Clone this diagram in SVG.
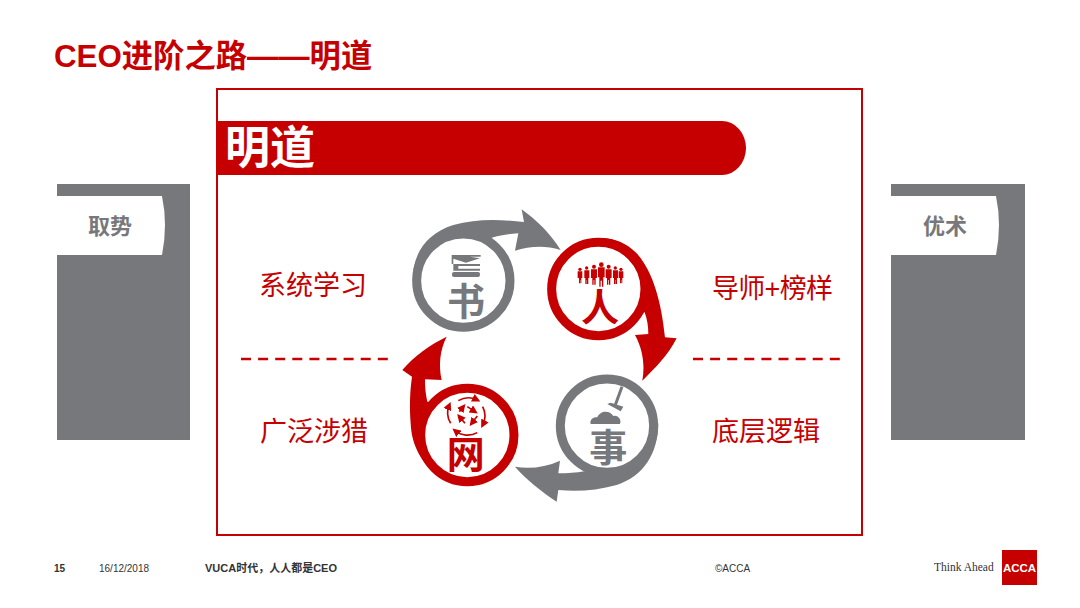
<svg xmlns="http://www.w3.org/2000/svg" width="1080" height="608" viewBox="0 0 1080 608">
<style>
text{font-family:"Liberation Sans","Noto Sans CJK SC",sans-serif}
.cn{font-family:"Noto Sans CJK SC","Liberation Sans",sans-serif}
.lbl{font-size:27px;fill:#c60000}
.tab{font-size:22px;font-weight:700;fill:#77787b;text-anchor:middle}
.ft{font-size:10px;fill:#333}
.gray{fill:#77787b}.red{fill:#c60000}
.ringg{fill:#fff;stroke:#77787b;stroke-width:27}
.ringr{fill:#fff;stroke:#c60000;stroke-width:27}
.big{font-size:114px;font-weight:700;text-anchor:middle}
.dash{stroke:#c60000;stroke-width:2.500;stroke-dasharray:10 7.100}
</style>
<defs>
<marker id="mini" markerWidth="5" markerHeight="5" refX="3" refY="2.500" orient="auto"><path d="M0 0L5 2.500L0 5Z" fill="#c60000"/></marker>
</defs>
<rect width="1080" height="608" fill="#fff"/>
<text id="title" x="54" y="67" font-size="31.300" font-weight="700" fill="#c60000">CEO进阶之路——明道</text>

<g id="panel-left">
<rect x="57" y="184" width="133" height="256" fill="#77787b"/>
<path d="M57 196H162Q168 225 162 255H57Z" fill="#fff"/>
<text class="tab" x="110" y="234">取势</text>
</g>
<g id="panel-right">
<rect x="891" y="184" width="134" height="256" fill="#77787b"/>
<path d="M891 196H996Q1002 225 996 255H891Z" fill="#fff"/>
<text class="tab" x="945" y="234">优术</text>
</g>

<g id="main-frame">
<rect x="217" y="89" width="645" height="446" fill="#fff" stroke="#c60000" stroke-width="2"/>
<path d="M217 121H722A24 27 0 0 1 722 175H217Z" fill="#c60000"/>
<text x="225" y="164" font-size="45" font-weight="700" fill="#fff">明道</text>
</g>

<g id="labels">
<text class="lbl" x="259" y="295">系统学习</text>
<text class="lbl" x="712" y="298" textLength="121">导师+榜样</text>
<text class="lbl" x="260" y="441">广泛涉猎</text>
<text class="lbl" x="712" y="441">底层逻辑</text>
<line class="dash" x1="241" y1="359" x2="388" y2="359"/>
<line class="dash" x1="693" y1="359" x2="840" y2="359"/>
</g>

<g id="cycle" transform="translate(390 190) scale(.3333)">
<g id="connectors">
<path class="gray" d="M68 270C68 190 110 130 190 105C260 85 330 88 402 96L395 58C440 90 480 130 512 180C465 165 420 168 375 182L385 130C350 132 330 136 310 142L240 170L90 300Z"/>
<path class="red" d="M560 165C620 130 690 140 740 190C790 245 815 340 825 442L860 445C835 495 795 535 757 572C765 530 760 480 735 435L775 432C775 410 772 390 765 370L700 250Z"/>
<path class="gray" d="M805 700C805 790 760 860 680 885C620 902 560 905 505 900L500 935C455 905 410 870 375 830C420 838 465 832 510 812L505 850C560 850 610 842 650 825Z"/>
<path class="red" d="M150 860C95 820 65 770 62 700C58 650 60 600 66 560L37 540C75 495 120 465 170 440C150 480 145 525 155 570L105 568C105 590 106 610 112 635L150 640Z"/>
</g>
<g id="node-shu">
<circle class="ringg" cx="220" cy="272" r="140"/>
<path class="gray" d="M185 195H272V200H240L270 205L228 218L190 206V222H185Z"/>
<path class="gray" d="M190 222H270V228H205V236H270V242H190Z"/>
<rect class="gray" x="186" y="246" width="84" height="15" rx="6"/>
<text class="big gray cn" x="228" y="376">书</text>
</g>
<g id="node-ren">
<circle class="ringr" cx="625" cy="297" r="140"/>
<g class="red">
<circle cx="634" cy="224" r="7"/><path d="M624 232H644V262H640V290H636V272H632V290H628V262H624Z"/>
<circle cx="612" cy="230" r="6"/><path d="M603 238H621V264H617V284H613V270H611V284H607V264H603Z"/>
<circle cx="656" cy="230" r="6"/><path d="M647 238H665V264H661V284H657V270H655V284H651V264H647Z"/>
<circle cx="590" cy="234" r="5"/><path d="M583 241H598V264H595V282H591V270H590V282H586V264H583Z"/>
<circle cx="676" cy="234" r="5"/><path d="M669 241H684V264H681V282H677V270H676V282H672V264H669Z"/>
<circle cx="570" cy="238" r="5"/><path d="M563 244H577V264H574V280H571V270H570V280H567V264H563Z"/>
<circle cx="693" cy="238" r="5"/><path d="M686 244H700V264H697V280H694V270H693V280H690V264H686Z"/>
</g>
<text class="big red cn" x="630" y="394">人</text>
</g>
<g id="node-shi">
<circle class="ringg" cx="651" cy="707" r="140"/>
<path d="M696 590L676 645" stroke="#77787b" stroke-width="9"/>
<path class="gray" d="M652 642L662 638L700 650L692 664Z"/>
<path class="gray" d="M602 702C598 688 612 680 622 682C630 660 660 660 670 678C684 674 696 690 690 702Z"/>
<text class="big gray cn" x="655" y="813">事</text>
</g>
<g id="node-wang">
<circle class="ringr" cx="232" cy="735" r="140"/>
<g fill="none" stroke="#c60000" stroke-width="5" marker-end="url(#mini)">
<path d="M205 632A60 60 0 0 1 262 630"/><path d="M278 650A60 60 0 0 1 278 705"/><path d="M262 728A60 60 0 0 1 195 722"/><path d="M182 700A60 60 0 0 1 178 645"/>
<path d="M232 650L255 665"/><path d="M262 678L245 700"/><path d="M225 700L208 680"/><path d="M208 665L220 650"/>
</g>
<text class="big red cn" x="227" y="833">网</text>
</g>
</g>

<g id="footer">
<text class="ft" x="54" y="572" font-weight="700">15</text>
<text class="ft" x="99" y="572" fill="#555">16/12/2018</text>
<text class="ft" x="205" y="572" font-weight="700" style="font-size:11px">VUCA时代，人人都是CEO</text>
<text class="ft" x="715" y="572">©ACCA</text>
<text x="934" y="571" font-size="11.500" fill="#333" style="font-family:'Liberation Serif',serif">Think Ahead</text>
<rect x="1002" y="550" width="35" height="35" fill="#c60000"/>
<text x="1019.500" y="572" font-size="11.500" font-weight="700" fill="#fff" text-anchor="middle">ACCA</text>
</g>
</svg>
